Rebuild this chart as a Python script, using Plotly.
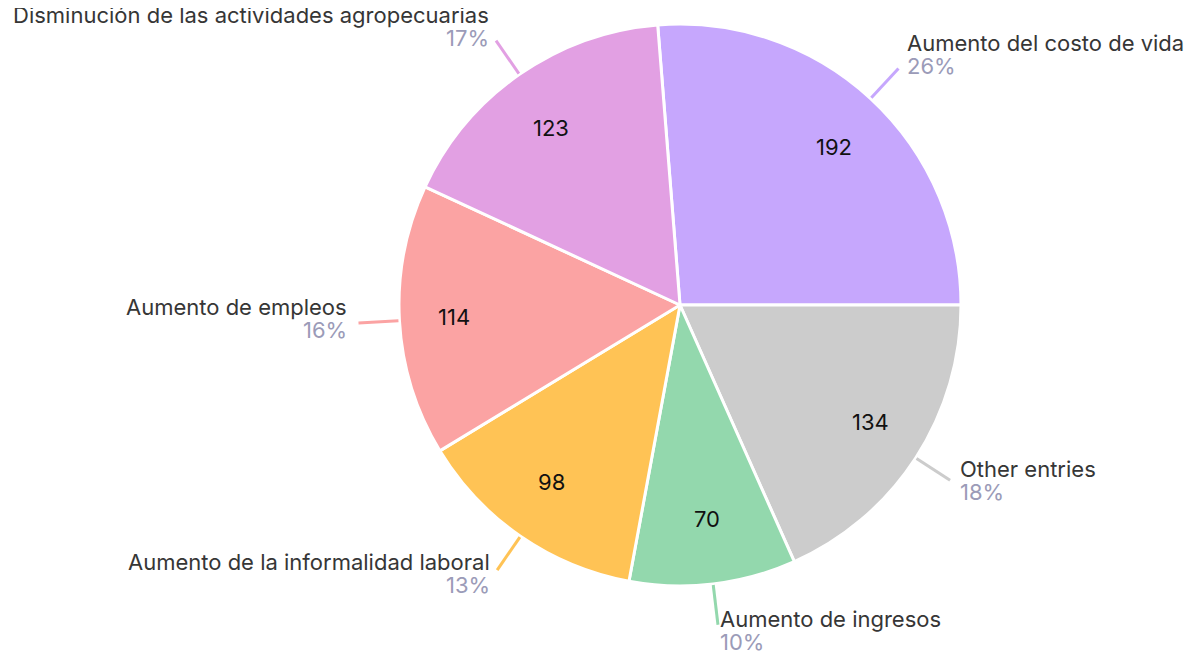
import math
import plotly.graph_objects as go

labels = ["Aumento del costo de vida", "Other entries", "Aumento de ingresos",
          "Aumento de la informalidad laboral", "Aumento de empleos",
          "Disminución de las actividades agropecuarias"]
values = [192, 134, 70, 98, 114, 123]
colors = ["#C6A7FD", "#CCCCCC", "#93D8AD", "#FFC355", "#FBA3A3", "#E2A0E3"]

# figure size (page body adds an 8px margin) and pie geometry in pixels
W, H = 1190, 644
cx, cy, R = 672, 297, 281
total = sum(values)
start = 90 - values[0] / total * 360  # first slice ends at 3 o'clock
FONT = "Inter"


def px(x, y):
    return x / W, 1 - y / H


fig = go.Figure()
fig.add_trace(go.Pie(
    labels=labels, values=values, sort=False, direction="clockwise",
    rotation=start,
    marker=dict(colors=colors, line=dict(color="white", width=3)),
    textinfo="none",
    hoverinfo="label+value+percent",
    domain=dict(x=[(cx - R) / W, (cx + R) / W], y=[(H - cy - R) / H, (H - cy + R) / H]),
    showlegend=False,
))

ang = start
for lab, v, col in zip(labels, values, colors):
    sweep = v / total * 360
    mid = math.radians(ang + sweep / 2)
    ang += sweep
    s, c = math.sin(mid), math.cos(mid)

    # value inside the slice
    vx, vy = px(cx + 0.785 * R * s + 6 * s, cy - 0.785 * R * c + 5 * c)
    fig.add_annotation(xref="paper", yref="paper", x=vx, y=vy, showarrow=False,
                       xanchor="center", yanchor="middle", text=str(v),
                       font=dict(family=FONT, size=22, color="#111111"))

    # leader line
    x0, y0 = cx + (R + 1) * s, cy - (R + 1) * c
    x1, y1 = cx + (R + 41) * s, cy - (R + 41) * c
    a0, b0 = px(x0, y0)
    a1, b1 = px(x1, y1)
    fig.add_shape(type="line", xref="paper", yref="paper",
                  x0=a0, y0=b0, x1=a1, y1=b1, line=dict(color=col, width=3))

    # outside label: name over percentage
    right = s >= 0
    tx = x1 + (1 if right else -1) * 11 * abs(s)
    pct_y = y1 + 6 - 11 * c
    name_y = pct_y - 23
    pct = round(v / total * 100)
    for txt, ty, colr in ((lab, name_y, "#363636"), (f"{pct}%", pct_y, "#9B9BB8")):
        ax, ay = px(tx, ty)
        fig.add_annotation(xref="paper", yref="paper", x=ax, y=ay, showarrow=False,
                           xanchor="left" if right else "right", yanchor="middle",
                           borderpad=0, text=txt,
                           font=dict(family=FONT, size=22, color=colr))

fig.update_layout(
    width=W, height=H, margin=dict(l=0, r=0, t=0, b=0),
    paper_bgcolor="white", plot_bgcolor="white",
)
fig.write_html("out.html")
